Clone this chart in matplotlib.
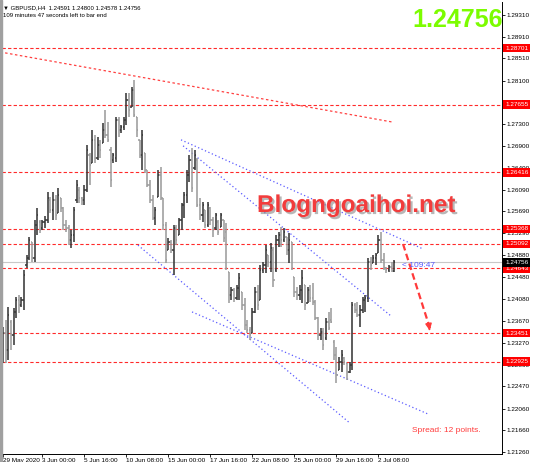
import matplotlib
matplotlib.use('Agg')
import matplotlib.pyplot as plt
import matplotlib.patheffects as pe
from matplotlib.collections import LineCollection
from matplotlib.patches import Rectangle

plt.rcParams['font.family'] = ['Liberation Sans', 'DejaVu Sans']

# GBPUSD H4 bars, 29 May 2020 .. 3 Jul 2020
opens = [1.2305, 1.2345, 1.2314, 1.2366, 1.2342, 1.2384, 1.2406, 1.2397, 1.2406, 1.2470,
         1.2483, 1.2513, 1.2483, 1.2544, 1.2550, 1.2539, 1.2550, 1.2553, 1.2590, 1.2572,
         1.2590, 1.2566, 1.2594, 1.2576, 1.2544, 1.2539, 1.2517, 1.2526, 1.2590, 1.2609,
         1.2594, 1.2590, 1.2609, 1.2673, 1.2658, 1.2701, 1.2668, 1.2691, 1.2695, 1.2719,
         1.2710, 1.2682, 1.2664, 1.2668, 1.2738, 1.2719, 1.2725, 1.2738, 1.2774, 1.2761,
         1.2793, 1.2743, 1.2701, 1.2673, 1.2677, 1.2646, 1.2618, 1.2590, 1.2557, 1.2596,
         1.2636, 1.2594, 1.2544, 1.2498, 1.2513, 1.2498, 1.2539, 1.2526, 1.2553, 1.2581,
         1.2599, 1.2636, 1.2664, 1.2649, 1.2664, 1.2581, 1.2563, 1.2572, 1.2544, 1.2576,
         1.2553, 1.2539, 1.2550, 1.2541, 1.2553, 1.2531, 1.2458, 1.2415, 1.2424, 1.2410,
         1.2428, 1.2421, 1.2397, 1.2360, 1.2351, 1.2345, 1.2384, 1.2421, 1.2406, 1.2461,
         1.2470, 1.2489, 1.2476, 1.2498, 1.2461, 1.2517, 1.2526, 1.2517, 1.2522, 1.2498,
         1.2513, 1.2448, 1.2421, 1.2415, 1.2424, 1.2434, 1.2401, 1.2424, 1.2410, 1.2402,
         1.2373, 1.2342, 1.2347, 1.2336, 1.2365, 1.2369, 1.2329, 1.2305, 1.2277, 1.2292,
         1.2299, 1.2290, 1.2273, 1.2286, 1.2397, 1.2388, 1.2378, 1.2388, 1.2406, 1.2410,
         1.2476, 1.2474, 1.2483, 1.2493, 1.2517, 1.2480, 1.2465, 1.2461, 1.2467, 1.24591]
highs = [1.2356, 1.2369, 1.2393, 1.2369, 1.2391, 1.2412, 1.2415, 1.2412, 1.2461, 1.2489,
         1.2522, 1.2513, 1.2553, 1.2576, 1.2553, 1.2553, 1.2561, 1.2605, 1.2596, 1.2605,
         1.2599, 1.2612, 1.2594, 1.2577, 1.2553, 1.2544, 1.2535, 1.2577, 1.2627, 1.2614,
         1.2596, 1.2618, 1.2691, 1.2677, 1.2719, 1.2710, 1.2706, 1.2701, 1.2732, 1.2756,
         1.2734, 1.2688, 1.2677, 1.2743, 1.2743, 1.2728, 1.2743, 1.2787, 1.2787, 1.2798,
         1.2811, 1.2743, 1.2701, 1.2719, 1.2677, 1.2646, 1.2627, 1.2599, 1.2577, 1.2646,
         1.2651, 1.2594, 1.2550, 1.2520, 1.2517, 1.2544, 1.2544, 1.2557, 1.2585, 1.2605,
         1.2646, 1.2673, 1.2686, 1.2682, 1.2668, 1.2594, 1.2587, 1.2572, 1.2587, 1.2577,
         1.2559, 1.2566, 1.2553, 1.2566, 1.2553, 1.2548, 1.2458, 1.2430, 1.2428, 1.2434,
         1.2456, 1.2421, 1.2410, 1.2369, 1.2356, 1.2391, 1.2430, 1.2434, 1.2470, 1.2476,
         1.2507, 1.2489, 1.2511, 1.2504, 1.2526, 1.2531, 1.2541, 1.2539, 1.2522, 1.2529,
         1.2513, 1.2448, 1.2430, 1.2434, 1.2461, 1.2434, 1.2430, 1.2434, 1.2437, 1.2406,
         1.2375, 1.2354, 1.2354, 1.2373, 1.2384, 1.2391, 1.2332, 1.2319, 1.2301, 1.2314,
         1.2301, 1.2290, 1.2292, 1.2402, 1.2401, 1.2402, 1.2397, 1.2412, 1.2415, 1.2483,
         1.2485, 1.2489, 1.2493, 1.2526, 1.2531, 1.2493, 1.2467, 1.2470, 1.2476, 1.24800]
lows = [1.2290, 1.2290, 1.2296, 1.2314, 1.2323, 1.2373, 1.2382, 1.2393, 1.2388, 1.2465,
        1.2480, 1.2476, 1.2476, 1.2526, 1.2529, 1.2535, 1.2539, 1.2548, 1.2566, 1.2553,
        1.2553, 1.2566, 1.2568, 1.2535, 1.2531, 1.2507, 1.2502, 1.2513, 1.2585, 1.2585,
        1.2581, 1.2581, 1.2605, 1.2618, 1.2658, 1.2658, 1.2664, 1.2668, 1.2695, 1.2704,
        1.2697, 1.2614, 1.2658, 1.2660, 1.2706, 1.2714, 1.2719, 1.2728, 1.2743, 1.2761,
        1.2743, 1.2706, 1.2668, 1.2646, 1.2640, 1.2614, 1.2585, 1.2553, 1.2544, 1.2596,
        1.2590, 1.2535, 1.2474, 1.2498, 1.2493, 1.2452, 1.2507, 1.2526, 1.2535, 1.2557,
        1.2585, 1.2623, 1.2605, 1.2646, 1.2577, 1.2553, 1.2550, 1.2539, 1.2541, 1.2544,
        1.2522, 1.2535, 1.2526, 1.2541, 1.2513, 1.2461, 1.2401, 1.2406, 1.2402, 1.2406,
        1.2406, 1.2388, 1.2351, 1.2345, 1.2332, 1.2345, 1.2382, 1.2388, 1.2406, 1.2456,
        1.2456, 1.2467, 1.2458, 1.2430, 1.2458, 1.2504, 1.2504, 1.2513, 1.2489, 1.2474,
        1.2461, 1.2412, 1.2406, 1.2406, 1.2401, 1.2388, 1.2401, 1.2402, 1.2397, 1.2369,
        1.2332, 1.2332, 1.2314, 1.2332, 1.2351, 1.2364, 1.2296, 1.2253, 1.2277, 1.2273,
        1.2286, 1.2259, 1.2272, 1.2277, 1.2382, 1.2375, 1.2356, 1.2382, 1.2384, 1.2402,
        1.2461, 1.2474, 1.2470, 1.2493, 1.2474, 1.2461, 1.2456, 1.2458, 1.2458, 1.24578]
closes = [1.2345, 1.2314, 1.2378, 1.2342, 1.2384, 1.2406, 1.2397, 1.2406, 1.2452, 1.2483,
          1.2517, 1.2483, 1.2544, 1.2563, 1.2535, 1.2550, 1.2553, 1.2594, 1.2572, 1.2590,
          1.2563, 1.2599, 1.2576, 1.2544, 1.2539, 1.2517, 1.2526, 1.2572, 1.2618, 1.2594,
          1.2590, 1.2609, 1.2682, 1.2655, 1.2701, 1.2668, 1.2691, 1.2682, 1.2719, 1.2710,
          1.2701, 1.2627, 1.2673, 1.2738, 1.2719, 1.2725, 1.2738, 1.2774, 1.2756, 1.2793,
          1.2747, 1.2719, 1.2673, 1.2710, 1.2646, 1.2618, 1.2590, 1.2557, 1.2572, 1.2636,
          1.2594, 1.2544, 1.2480, 1.2513, 1.2498, 1.2539, 1.2517, 1.2553, 1.2581, 1.2599,
          1.2636, 1.2664, 1.2612, 1.2673, 1.2581, 1.2563, 1.2581, 1.2544, 1.2581, 1.2553,
          1.2535, 1.2563, 1.2531, 1.2563, 1.2520, 1.2465, 1.2415, 1.2424, 1.2410, 1.2428,
          1.2447, 1.2397, 1.2360, 1.2351, 1.2342, 1.2384, 1.2421, 1.2397, 1.2461, 1.2470,
          1.2498, 1.2476, 1.2502, 1.2443, 1.2517, 1.2526, 1.2517, 1.2531, 1.2498, 1.2517,
          1.2465, 1.2421, 1.2415, 1.2424, 1.2447, 1.2397, 1.2424, 1.2410, 1.2402, 1.2373,
          1.2342, 1.2347, 1.2323, 1.2365, 1.2354, 1.2366, 1.2305, 1.2268, 1.2292, 1.2305,
          1.2292, 1.2273, 1.2286, 1.2397, 1.2388, 1.2378, 1.2388, 1.2406, 1.2410, 1.2476,
          1.2470, 1.2483, 1.2489, 1.2517, 1.2480, 1.2465, 1.2461, 1.2467, 1.2459, 1.24756]

level_prices = [1.28701, 1.27655, 1.26416, 1.25368, 1.25092, 1.24643, 1.23451, 1.22925]
current_price = 1.24756

y_ticks = [1.29310, 1.28910, 1.28510, 1.28100, 1.27300, 1.26900, 1.26490,
           1.26090, 1.25690, 1.25290, 1.24880, 1.24480, 1.24080, 1.23670, 1.23270,
           1.22860, 1.22470, 1.22060, 1.21660, 1.21260]
x_tick_bars = [0, 15, 31, 47, 63, 79, 95, 111, 127, 143]
x_tick_labels = ['29 May 2020', '3 Jun 00:00', '5 Jun 16:00', '10 Jun 08:00', '15 Jun 00:00',
                 '17 Jun 16:00', '22 Jun 08:00', '25 Jun 00:00', '29 Jun 16:00', '2 Jul 08:00']

# drawn objects: ((bar, price), (bar, price))
red_trend = [(-1.1, 1.28628), (148.2, 1.27339)]
blue_lines = [[(67.8, 1.2701), (160.0, 1.2500)],
              [(68.6, 1.2690), (148.2, 1.2375)],
              [(51.4, 1.2507), (132.2, 1.2179)],
              [(72.0, 1.2384), (161.9, 1.2196)]]
arrow_from = (152.4, 1.2509)
arrow_to = (162.7, 1.2345)

W, H = 534, 462
fig = plt.figure(figsize=(W / 100, H / 100), dpi=100)
fig.patches.append(Rectangle((0, 0), 2 / W, 1, transform=fig.transFigure,
                             color='#a0a0a0', zorder=0))
ax = fig.add_axes([2 / W, 8 / H, 500 / W, 452 / H])
ax.set_xlim(-0.4, 190.1)
ax.set_ylim(1.21223, 1.29549)

# levels
for p in level_prices:
    ax.axhline(p, color='#ff2a2a', lw=0.8, ls=(0, (3, 2)), zorder=1)
ax.axhline(current_price, color='#c8c8c8', lw=0.8, zorder=1)

ax.plot([red_trend[0][0], red_trend[1][0]], [red_trend[0][1], red_trend[1][1]],
        color='#ff4040', lw=0.9, ls=(0, (2, 2)), zorder=1)
for (a, b) in blue_lines:
    ax.plot([a[0], b[0]], [a[1], b[1]], color='#5a5aff', lw=0.9, ls=(0, (1, 2)), zorder=1)

# OHLC bars
up_seg, dn_seg = [], []
for i in range(len(opens)):
    seg = [[(i, lows[i]), (i, highs[i])],
           [(i - 0.45, opens[i]), (i, opens[i])],
           [(i, closes[i]), (i + 0.45, closes[i])]]
    if closes[i] >= opens[i]:
        up_seg += seg
    else:
        dn_seg += seg
ax.add_collection(LineCollection(up_seg, colors='#383838', linewidths=1.15, zorder=2))
ax.add_collection(LineCollection(dn_seg, colors='#9c9c9c', linewidths=1.15, zorder=2))

# forecast arrow
ax.plot([arrow_from[0], arrow_to[0]], [arrow_from[1], arrow_to[1] + 0.0008],
        color='#ff3a3a', lw=1.6, ls=(0, (3, 1.6)), zorder=3)
ax.annotate('', xy=arrow_to, xytext=(arrow_to[0] - 0.4, arrow_to[1] + 0.0012),
            arrowprops=dict(arrowstyle='-|>', color='#ff3a3a', lw=1.2, mutation_scale=9),
            zorder=3)

# axes
for s in ['top', 'left']:
    ax.spines[s].set_visible(False)
for s in ['right', 'bottom']:
    ax.spines[s].set_linewidth(0.7)
ax.set_yticks(y_ticks)
ax.set_yticklabels(['%.5f' % v for v in y_ticks])
ax.set_xticks(x_tick_bars)
ax.set_xticklabels(x_tick_labels)
ax.tick_params(axis='y', left=False, right=True, labelleft=False, labelright=True,
               length=2.2, width=0.6, pad=0.8, labelsize=4.6)
ax.tick_params(axis='x', length=2.2, width=0.6, pad=0.5, labelsize=4.6)
for lab in ax.get_xticklabels():
    lab.set_ha('left')

ytr = ax.get_yaxis_transform()
for p in level_prices:
    ax.text(1.006, p, '%.5f' % p, transform=ytr, ha='left', va='center', fontsize=4.6,
            color='white', clip_on=False, zorder=5,
            bbox=dict(boxstyle='square,pad=0.3', fc='#ff0000', ec='none'))
ax.text(1.006, current_price, '%.5f' % current_price, transform=ytr, ha='left',
        va='center', fontsize=4.6, color='white', clip_on=False, zorder=5,
        bbox=dict(boxstyle='square,pad=0.3', fc='#000000', ec='none'))

def fx(x):
    return x / W

def fy(y):
    return 1 - y / H

fig.text(fx(3), fy(7.5), '▼ GBPUSD,H4  %.5f %.5f %.5f %.5f'
         % (opens[-1], highs[-1], lows[-1], closes[-1]),
         fontsize=4.3, va='center', ha='left')
fig.text(fx(3), fy(15.5), '109 minutes 47 seconds left to bar end',
         fontsize=4.3, va='center', ha='left')
fig.text(fx(412), fy(27), '%.5f' % current_price, fontsize=18, fontweight='bold',
         color='#7cfc00', ha='left', va='baseline')
fig.text(fx(257), fy(212), 'Blogngoaihoi.net', fontsize=17.5, fontweight='bold',
         color='#f23c3c', ha='left', va='baseline',
         path_effects=[pe.SimplePatchShadow(offset=(1.5, -1.5), shadow_rgbFace='#888888',
                                            alpha=0.6), pe.Normal()])
fig.text(fx(402), fy(265.5), '< 109:47', fontsize=6, color='#5a5aff', ha='left', va='center')
fig.text(fx(412), fy(430), 'Spread: 12 points.', fontsize=6, color='#ff3c3c',
         ha='left', va='center')

fig.savefig('out.png', dpi=100)
